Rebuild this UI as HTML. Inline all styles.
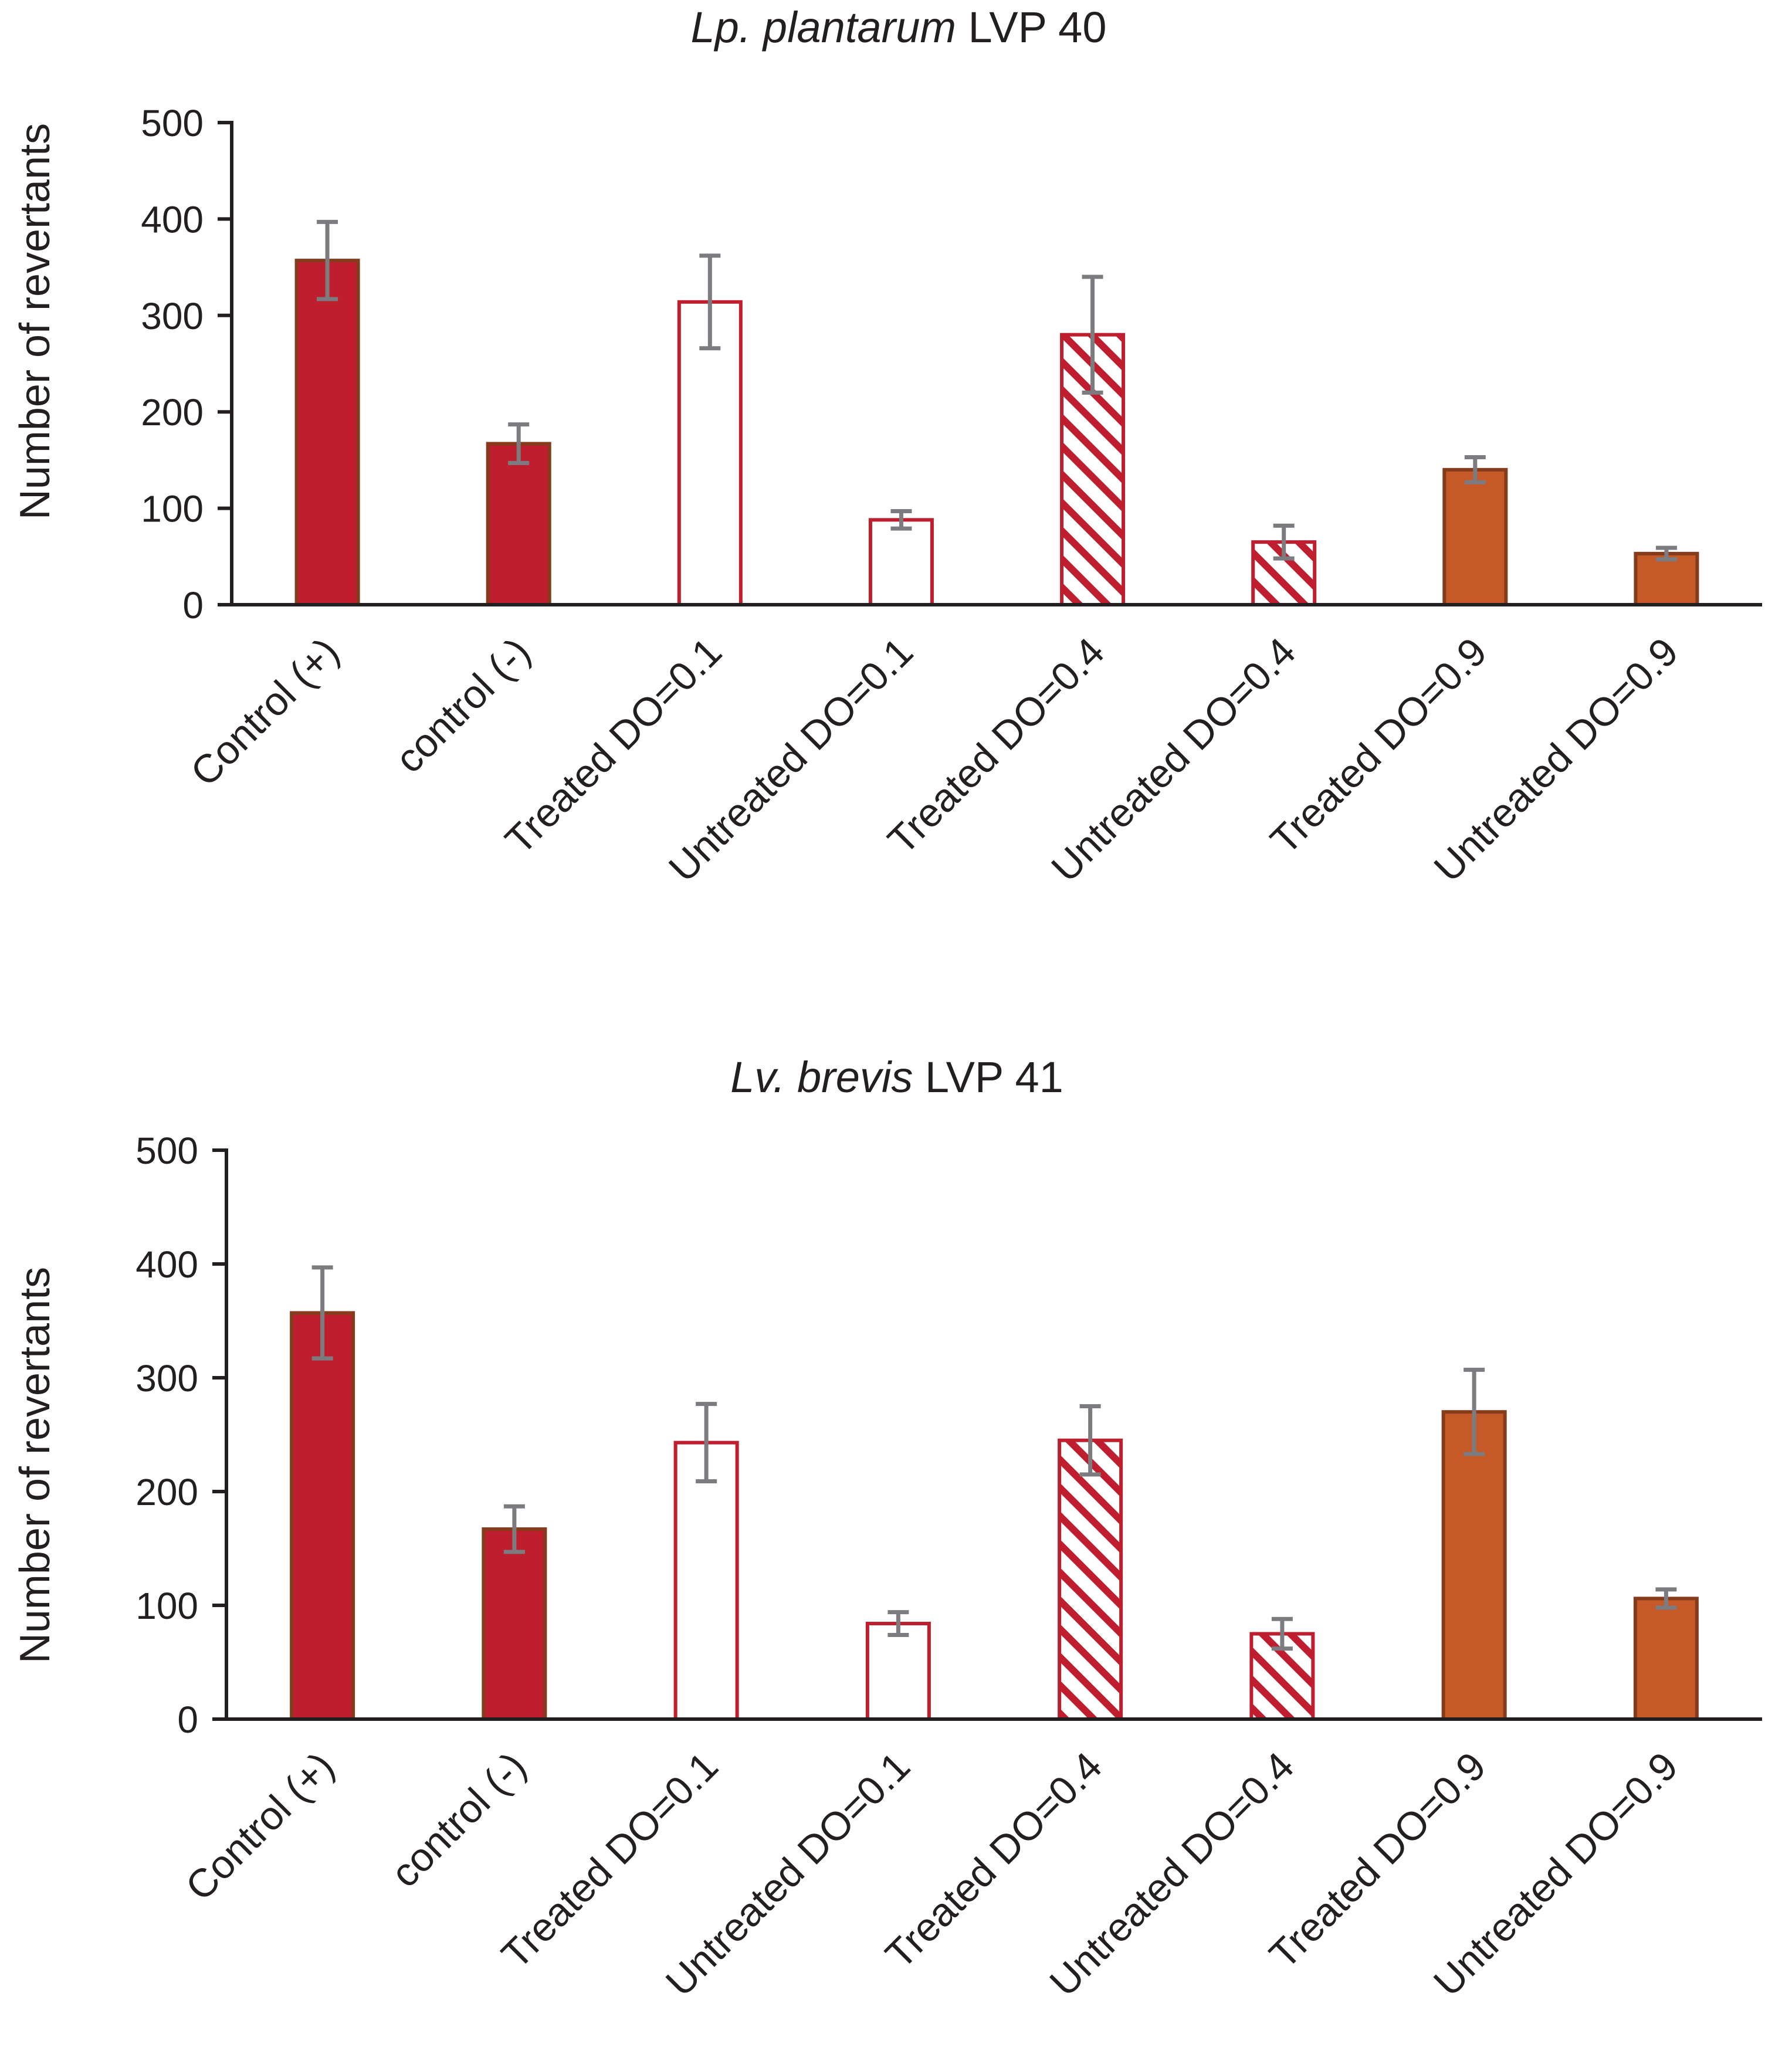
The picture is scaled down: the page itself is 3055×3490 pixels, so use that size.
<!DOCTYPE html>
<html><head><meta charset="utf-8"><style>
html,body{margin:0;padding:0;background:#fff;}
svg{display:block;font-family:"Liberation Sans",sans-serif;}
</style></head><body>
<svg id="svg" width="3055" height="3490" viewBox="0 0 3055 3490" xmlns="http://www.w3.org/2000/svg">
<defs>
<pattern id="hatch" patternUnits="userSpaceOnUse" width="34" height="34" patternTransform="rotate(45)">
<rect width="34" height="34" fill="#fff"/>
<rect x="0" y="0" width="34" height="12" fill="#be1e2d"/>
</pattern>
</defs>
<text x="1532" y="72" font-size="74" text-anchor="middle" fill="#231f20"><tspan font-style="italic">Lp. plantarum</tspan> LVP 40</text>
<text x="1529" y="1862" font-size="74" text-anchor="middle" fill="#231f20"><tspan font-style="italic">Lv. brevis</tspan> LVP 41</text>
<g id="c1"></g>
<g id="c2"></g>
</svg>
<script>
const categories = ["Control (+)","control (-)","Treated DO=0.1","Untreated DO=0.1","Treated DO=0.4","Untreated DO=0.4","Treated DO=0.9","Untreated DO=0.9"];
const topValues = [357,167,314,88,280,65,140,53];
const topErrors = [40,20,48,9,60,17,13,6];
const bottomValues = [357,167,243,84,245,75,270,106];
const bottomErrors = [40,20,34,10,30,13,37,8];
const yTicks = [0,100,200,300,400,500];
const styles = ["solid","solid","open","open","hatch","hatch","orange","orange"];
const NS="http://www.w3.org/2000/svg";
function mk(tag,attrs,parent){const e=document.createElementNS(NS,tag);for(const k in attrs)e.setAttribute(k,attrs[k]);parent.appendChild(e);return e;}
function draw(g,cfg,values,errors,prefix){
  const y=v=>cfg.y0-(v/500)*(cfg.y0-cfg.y500);
  const bw=(cfg.x1-cfg.x0)/categories.length;
  const xc=i=>cfg.x0+bw*(i+0.5);
  const yl=mk('text',{x:cfg.ylx,y:cfg.ylc,'font-size':72,'text-anchor':'middle',fill:'#231f20',transform:`rotate(-90 ${cfg.ylx} ${cfg.ylc})`},g);
  
  
  yl.textContent='Number of revertants';
  yTicks.forEach(t=>{
    const tk=mk('line',{x1:cfg.x0-24,x2:cfg.x0,y1:y(t),y2:y(t),stroke:'#231f20','stroke-width':6},g);
    
    
    const tl=mk('text',{x:cfg.x0-48,y:y(t)+23,'font-size':64,'text-anchor':'end',fill:'#231f20'},g);
    
    
    tl.textContent=t;
  });
  values.forEach((v,i)=>{
    const w=105, s=styles[i];
    let fill='#be1e2d', stroke='#843c1c';
    if(s==='open'){fill='#fff';stroke='#be1e2d';}
    if(s==='hatch'){fill='url(#hatch)';stroke='#be1e2d';}
    if(s==='orange'){fill='#c55a28';stroke='#843c1c';}
    const r=mk('rect',{x:xc(i)-w/2,y:y(v),width:w,height:y(0)-y(v),fill:fill,stroke:stroke,'stroke-width':6},g);
    
    
    const e=errors[i];
    const eb=mk('path',{d:`M${xc(i)} ${y(v+e)}V${y(v-e)}M${xc(i)-18} ${y(v+e)}H${xc(i)+18}M${xc(i)-18} ${y(v-e)}H${xc(i)+18}`,stroke:'#7c7c80','stroke-width':7,fill:'none'},g);
    
    
    const lx=xc(i)+24, ly=cfg.y0+85;
    const lb=mk('text',{x:lx,y:ly,'font-size':68,'text-anchor':'end',fill:'#231f20',transform:`rotate(-45 ${lx} ${ly})`},g);
    
    
    lb.textContent=categories[i];
  });
  const ax=mk('path',{d:`M${cfg.x0} ${cfg.y500-3}V${cfg.y0}H${cfg.x1}`,stroke:'#231f20','stroke-width':6,fill:'none'},g);
  
  
}
draw(document.getElementById('c1'),{x0:395,x1:3004,y0:1031,y500:209,ylx:84,ylc:548},topValues,topErrors,'top');
draw(document.getElementById('c2'),{x0:386,x1:3004,y0:2931,y500:1961,ylx:84,ylc:2498},bottomValues,bottomErrors,'bottom');
</script>
</body></html>
